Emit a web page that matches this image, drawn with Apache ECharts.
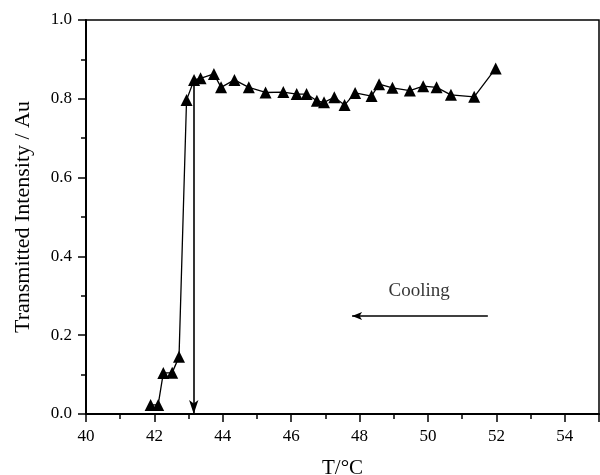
<!DOCTYPE html>
<html>
<head>
<meta charset="utf-8">
<script src="https://cdn.jsdelivr.net/npm/echarts@6/dist/echarts.min.js"></script>
<style>html,body{margin:0;padding:0;background:#fff;}#c{width:600px;height:475px;}</style>
</head>
<body>
<div id="c"></div>
<script>
const temps = [41.89, 42.11, 42.26, 42.52, 42.72, 42.94, 43.16, 43.35, 43.74, 43.95, 44.34, 44.76, 45.25, 45.77, 46.16, 46.45, 46.75, 46.96, 47.26, 47.56, 47.87, 48.35, 48.57, 48.96, 49.47, 49.86, 50.25, 50.67, 51.35, 51.98];
const intensity = [0.023, 0.023, 0.104, 0.105, 0.145, 0.797, 0.848, 0.852, 0.863, 0.829, 0.848, 0.829, 0.816, 0.817, 0.812, 0.812, 0.795, 0.791, 0.804, 0.784, 0.815, 0.807, 0.837, 0.828, 0.821, 0.832, 0.829, 0.810, 0.805, 0.877];
const transitionArrow = [[43.15, 0.84], [43.15, 0.0]];
const coolingArrow = [[51.75, 0.249], [47.78, 0.249]];
const coolingLabel = [49.74, 0.312];
const xTicks = [40, 42, 44, 46, 48, 50, 52, 54];
const yTicks = [0.0, 0.2, 0.4, 0.6, 0.8, 1.0];

const font = 'Liberation Serif';
const chart = echarts.init(document.getElementById('c'));
chart.setOption({
  animation: false,
  backgroundColor: '#fff',
  grid: { left: 86, right: 1, top: 20, bottom: 61, show: true, borderColor: '#000', borderWidth: 1.5, containLabel: false, outerBoundsMode: 'none' },
  xAxis: {
    type: 'value', min: 40, max: 55, interval: 2,
    name: 'T/°C', nameLocation: 'middle', nameGap: 44,
    nameTextStyle: { fontFamily: font, fontSize: 21, color: '#000' },
    axisLine: { show: true, lineStyle: { color: '#000', width: 2 } },
    axisTick: { show: true, inside: false, length: 8, lineStyle: { color: '#000', width: 1.5 } },
    minorTick: { show: true, splitNumber: 2, length: 5, lineStyle: { color: '#000', width: 1.5 } },
    axisLabel: { fontFamily: font, fontSize: 17, color: '#000', margin: 14, showMaxLabel: false,
      formatter: v => xTicks.includes(v) ? String(v) : '' },
    splitLine: { show: false }
  },
  yAxis: {
    type: 'value', min: 0, max: 1, interval: 0.2,
    name: 'Transmitted Intensity / Au', nameLocation: 'middle', nameGap: 52, nameRotate: 90,
    nameTextStyle: { fontFamily: font, fontSize: 22, color: '#000' },
    axisLine: { show: true, lineStyle: { color: '#000', width: 2 } },
    axisTick: { show: true, inside: false, length: 8, lineStyle: { color: '#000', width: 1.5 } },
    minorTick: { show: true, splitNumber: 2, length: 5, lineStyle: { color: '#000', width: 1.5 } },
    axisLabel: { fontFamily: font, fontSize: 17, color: '#000', margin: 14,
      formatter: v => yTicks.some(t => Math.abs(t - v) < 1e-9) ? v.toFixed(1) : '' },
    splitLine: { show: false }
  },
  series: [
    {
      type: 'line',
      data: temps.map((t, i) => [t, intensity[i]]),
      symbol: 'triangle', symbolSize: 12,
      itemStyle: { color: '#000' },
      lineStyle: { color: '#000', width: 1.3 },
      z: 3
    },
    {
      type: 'line', data: [], silent: true,
      markLine: {
        silent: true, symbol: ['none', 'arrow'], symbolSize: [7, 14],
        label: { show: false },
        lineStyle: { color: '#000', width: 1.6, type: 'solid' },
        data: [
          [{ coord: transitionArrow[0] }, { coord: transitionArrow[1] }],
          [{ coord: coolingArrow[0] }, { coord: coolingArrow[1], symbolSize: [6, 10] }]
        ]
      }
    },
    {
      type: 'scatter', symbolSize: 0, silent: true,
      data: [coolingLabel],
      label: { show: true, position: 'inside', formatter: 'Cooling', fontFamily: font, fontSize: 19, color: '#000' }
    }
  ]
});
</script>
</body>
</html>
